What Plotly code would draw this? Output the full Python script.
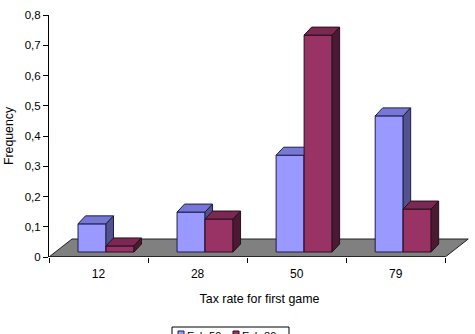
import plotly.graph_objects as go

# ---- data ----
categories = ["12", "28", "50", "79"]
series_names = ["Ech 50", "Ech 80"]
blue_values = [0.093, 0.132, 0.32, 0.45]
red_values = [0.02, 0.109, 0.717, 0.142]
y_tick_vals = [0, 0.1, 0.2, 0.3, 0.4, 0.5, 0.6, 0.7, 0.8]
y_tick_text = ["0", "0,1", "0,2", "0,3", "0,4", "0,5", "0,6", "0,7", "0,8"]

# ---- geometry / style ----
W, H = 475, 334
ML, MR, MT, MB = 49, 5, 15, 77
XR = [-0.5, 3.75]
YR = [0, 0.8]
PW, PH = W - ML - MR, H - MT - MB
px_x = (XR[1] - XR[0]) / PW
px_y = (YR[1] - YR[0]) / PH

FLOOR_DX, FLOOR_DY = 23 * px_x, 18 * px_y
BAR_DX, BAR_DY = 7.5 * px_x, 8 * px_y
BASE = 5 * px_y
BAR_W = 28 * px_x
FRONT_OFF = 29 * px_x  # from category left edge

styles = [
    dict(front="#9999FF", top="#7777D6", side="#52528F", line="#1E1E4A"),
    dict(front="#993366", top="#7A2952", side="#4A1A32", line="#2A0F1E"),
]
FONT = "Liberation Sans, Arial, sans-serif"


def pxx(p):  # pixel x -> paper x
    return (p - ML) / PW


def pxy(p):  # pixel y -> paper y
    return (H - MB - p) / PH


fig = go.Figure()


def poly(xs, ys, fill, line):
    fig.add_trace(go.Scatter(
        x=xs + [xs[0]], y=ys + [ys[0]], mode="lines", fill="toself",
        fillcolor=fill, line=dict(color=line, width=1),
        hoverinfo="skip", showlegend=False))


# floor
n = len(categories)
fx0, fx1 = -0.5, n - 0.5
poly([fx0, fx1, fx1 + FLOOR_DX, fx0 + FLOOR_DX], [0, 0, FLOOR_DY, FLOOR_DY],
     "#808080", "#202020")

# bars
for i in range(n):
    for s, vals in enumerate([blue_values, red_values]):
        st = styles[s]
        x0 = i - 0.5 + FRONT_OFF + s * BAR_W
        x1 = x0 + BAR_W
        b = BASE
        t = BASE + vals[i]
        poly([x0, x1, x1, x0], [b, b, t, t], st["front"], st["line"])
        poly([x0, x1, x1 + BAR_DX, x0 + BAR_DX], [t, t, t + BAR_DY, t + BAR_DY],
             st["top"], st["line"])
        poly([x1, x1 + BAR_DX, x1 + BAR_DX, x1], [b, b + BAR_DY, t + BAR_DY, t],
             st["side"], st["line"])

# invisible trace for boundary tick axis
fig.add_trace(go.Scatter(x=[XR[0]], y=[0], xaxis="x2", mode="markers",
                         marker=dict(opacity=0), hoverinfo="skip", showlegend=False))

# x axis line
fig.add_shape(type="line", xref="x", yref="y", x0=fx0, x1=fx1, y0=0, y1=0,
              line=dict(color="#000000", width=1))

# legend (box partly below the visible page, as in the reference)
LEG_X0, LEG_X1, LEG_Y0 = 172, 289, 327
fig.add_shape(type="rect", xref="paper", yref="paper",
              x0=pxx(LEG_X0), x1=pxx(LEG_X1), y0=pxy(LEG_Y0), y1=pxy(LEG_Y0 + 22),
              line=dict(color="black", width=1), fillcolor="white")
for k, name in enumerate(series_names):
    sx = 178 + k * 55
    fig.add_shape(type="rect", xref="paper", yref="paper",
                  x0=pxx(sx), x1=pxx(sx + 6), y0=pxy(331), y1=pxy(337),
                  line=dict(color=styles[k]["line"], width=1),
                  fillcolor=styles[k]["front"])
    fig.add_annotation(xref="paper", yref="paper", x=pxx(sx + 8), y=pxy(329),
                       xanchor="left", yanchor="top", text=name, showarrow=False,
                       font=dict(size=11, family=FONT, color="black"),
                       borderpad=0)

fig.update_layout(
    width=W, height=H,
    margin=dict(l=ML, r=MR, t=MT, b=MB, autoexpand=False),
    paper_bgcolor="white", plot_bgcolor="white",
    font=dict(family=FONT, size=11, color="black"),
    showlegend=False,
    xaxis=dict(range=XR, tickvals=list(range(n)), ticktext=categories,
               showgrid=False, zeroline=False, showline=False, ticks="",
               ticklabelstandoff=8,
               tickfont=dict(size=12),
               title=dict(text="Tax rate for first game", font=dict(size=12.4),
                          standoff=14)),
    xaxis2=dict(range=XR, overlaying="x", anchor="y", side="bottom",
                tickvals=[i - 0.5 for i in range(n + 1)], showticklabels=False,
                ticks="outside", ticklen=5, tickcolor="black",
                showgrid=False, zeroline=False, showline=False),
    yaxis=dict(range=YR, tickvals=y_tick_vals, ticktext=y_tick_text,
               showgrid=False, zeroline=False, showline=True, linecolor="black",
               ticks="outside", ticklen=5, tickcolor="black",
               tickfont=dict(size=11.5),
               title=dict(text="Frequency", font=dict(size=12.3), standoff=8)),
)

fig.write_html("out.html")
